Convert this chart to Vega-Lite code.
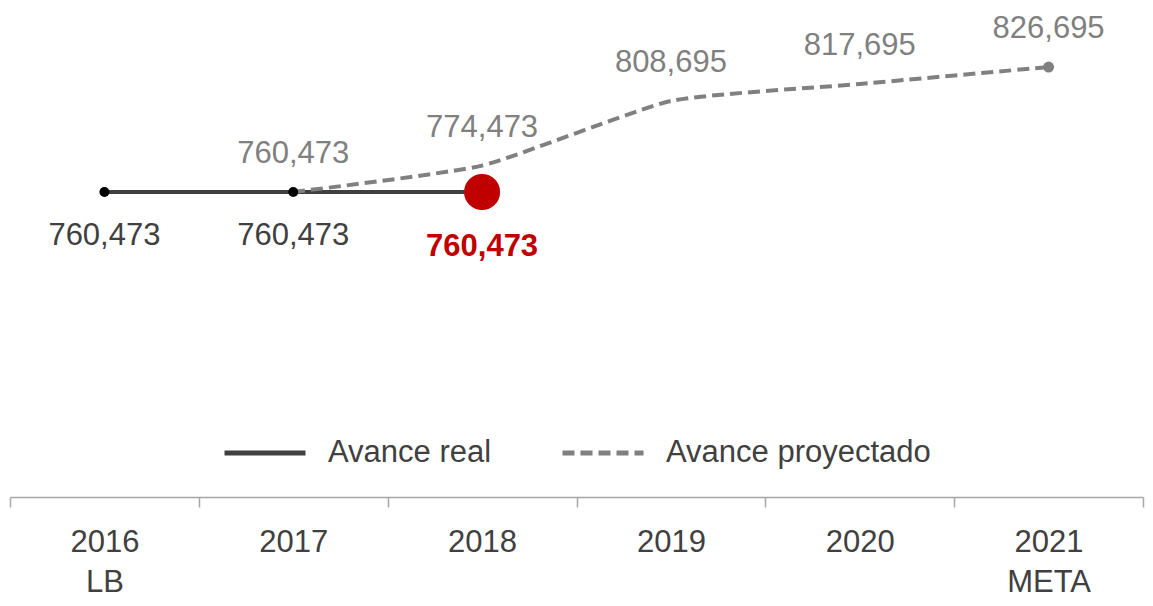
{
  "$schema": "https://vega.github.io/schema/vega-lite/v6.json",
  "width": 1133,
  "height": 497,
  "autosize": {"type": "none"},
  "padding": {"left": 10, "top": 0, "right": 10, "bottom": 109},
  "background": "white",
  "config": {
    "view": {"stroke": null},
    "font": "Liberation Sans",
    "text": {"font": "Liberation Sans"}
  },
  "data": {
    "values": [
      {"year": "2016", "series": "Avance real", "value": 760473},
      {"year": "2017", "series": "Avance real", "value": 760473},
      {"year": "2018", "series": "Avance real", "value": 760473},
      {"year": "2017", "series": "Avance proyectado", "value": 760473},
      {"year": "2018", "series": "Avance proyectado", "value": 774473},
      {"year": "2019", "series": "Avance proyectado", "value": 808695},
      {"year": "2020", "series": "Avance proyectado", "value": 817695},
      {"year": "2021", "series": "Avance proyectado", "value": 826695}
    ]
  },
  "encoding": {
    "x": {
      "field": "year",
      "type": "ordinal",
      "sort": ["2016", "2017", "2018", "2019", "2020", "2021"],
      "scale": {"domain": ["2016", "2017", "2018", "2019", "2020", "2021"], "paddingInner": 0, "paddingOuter": 0},
      "axis": {
        "title": null,
        "orient": "bottom",
        "labelAngle": 0,
        "labelExpr": "datum.value == '2016' ? ['2016', 'LB'] : datum.value == '2021' ? ['2021', 'META'] : datum.value",
        "labelFont": "Liberation Sans",
        "labelFontSize": 31,
        "labelColor": "#404040",
        "labelLineHeight": 40,
        "labelPadding": 20,
        "domainColor": "#a6a6a6",
        "domainWidth": 1.5,
        "tickColor": "#a6a6a6",
        "tickWidth": 1.5,
        "tickSize": 10,
        "tickBand": "extent",
        "grid": false
      }
    },
    "y": {
      "field": "value",
      "type": "quantitative",
      "scale": {"domain": [598884, 862195], "nice": false, "zero": false},
      "axis": null
    }
  },
  "layer": [
    {
      "mark": {"type": "line", "strokeWidth": 4, "interpolate": "cardinal", "tension": 0.5},
      "encoding": {
        "color": {
          "field": "series",
          "type": "nominal",
          "scale": {"domain": ["Avance real", "Avance proyectado"], "range": ["#404040", "#808080"]},
          "legend": {
            "title": null,
            "orient": "none",
            "legendX": 212,
            "legendY": 410,
            "direction": "horizontal",
            "symbolType": "stroke",
            "symbolSize": 6561,
            "symbolStrokeWidth": 5,
            "labelFont": "Liberation Sans",
            "labelFontSize": 31,
            "labelColor": "#404040",
            "labelOffset": 20,
            "columnPadding": 60,
            "labelLimit": 400
          }
        },
        "strokeDash": {
          "field": "series",
          "type": "nominal",
          "scale": {"domain": ["Avance real", "Avance proyectado"], "range": [[1, 0], [12, 6]]},
          "legend": {
            "title": null,
            "orient": "none",
            "legendX": 212,
            "legendY": 410,
            "direction": "horizontal",
            "symbolType": "stroke",
            "symbolSize": 6561,
            "symbolStrokeWidth": 5,
            "labelFont": "Liberation Sans",
            "labelFontSize": 31,
            "labelColor": "#404040",
            "labelOffset": 20,
            "columnPadding": 60,
            "labelLimit": 400
          }
        }
      }
    },
    {
      "transform": [{"filter": "datum.series == 'Avance real' && datum.year != '2018'"}],
      "mark": {"type": "point", "filled": true, "size": 100, "color": "#000000", "opacity": 1}
    },
    {
      "transform": [{"filter": "datum.series == 'Avance real' && datum.year == '2018'"}],
      "mark": {"type": "point", "filled": true, "size": 1300, "color": "#c00000", "opacity": 1}
    },
    {
      "transform": [{"filter": "datum.series == 'Avance proyectado' && datum.year == '2021'"}],
      "mark": {"type": "point", "filled": true, "size": 120, "color": "#808080", "opacity": 1}
    },
    {
      "transform": [{"filter": "datum.series == 'Avance real' && datum.year != '2018'"}],
      "mark": {"type": "text", "fontSize": 31, "color": "#404040", "dy": 44},
      "encoding": {"text": {"field": "value", "type": "quantitative", "format": ",d"}}
    },
    {
      "transform": [{"filter": "datum.series == 'Avance real' && datum.year == '2018'"}],
      "mark": {"type": "text", "fontSize": 31, "fontWeight": "bold", "color": "#c00000", "dy": 55},
      "encoding": {"text": {"field": "value", "type": "quantitative", "format": ",d"}}
    },
    {
      "transform": [{"filter": "datum.series == 'Avance proyectado'"}],
      "mark": {"type": "text", "fontSize": 31, "color": "#808080", "dy": -38},
      "encoding": {"text": {"field": "value", "type": "quantitative", "format": ",d"}}
    }
  ]
}
